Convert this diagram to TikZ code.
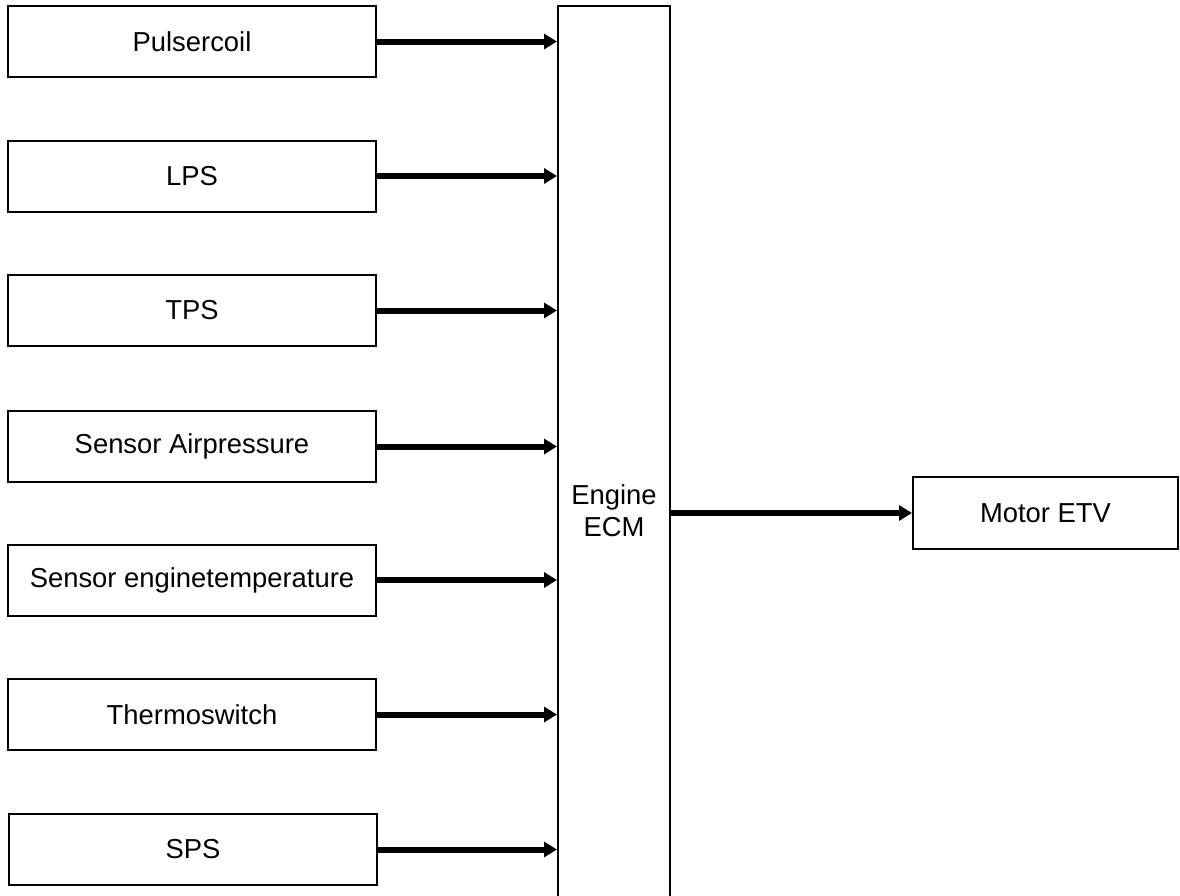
\documentclass[tikz,border=0pt]{standalone}
\usepackage{fontspec}
\setmainfont{Liberation Sans}
\usetikzlibrary{arrows.meta}
\begin{document}
\begin{tikzpicture}[x=1pt,y=-1pt,
  blk/.style={draw=black,line width=2pt,rectangle,inner sep=0pt,
    font=\fontsize{27.4}{32}\selectfont,align=center},
  inbox/.style={blk,minimum width=368pt,minimum height=71pt},
  sig/.style={line width=6pt,-{Triangle[length=13pt,width=15pt]},shorten >=0pt}]
\useasboundingbox (0,0) rectangle (1180,895);
\clip (0,0) rectangle (1180,895);

% ECM block, runs past the lower edge
\node[blk,minimum width=112pt,minimum height=1010pt] (ecm) at (614,511) {Engine\\ECM};

% sensor inputs
\node[inbox] (p1) at (192,41.5) {Pulsercoil};
\node[inbox] (p2) at (192,176) {LPS};
\node[inbox] (p3) at (192,310.5) {TPS};
\node[inbox] (p4) at (192,446.5) {Sensor Airpressure};
\node[inbox] (p5) at (192,580) {Sensor enginetemperature};
\node[inbox] (p6) at (192,714.5) {Thermoswitch};
\node[inbox] (p7) at (193,849.5) {SPS};

% actuator output
\node[blk,minimum width=265pt,minimum height=72pt] (etv) at (1045.5,513) {Motor ETV};

\foreach \i in {1,...,7}
  \draw[sig] (p\i.east) -- (p\i.east -| ecm.west);
\draw[sig] (etv.west -| ecm.east) -- (etv.west);
\end{tikzpicture}
\end{document}
